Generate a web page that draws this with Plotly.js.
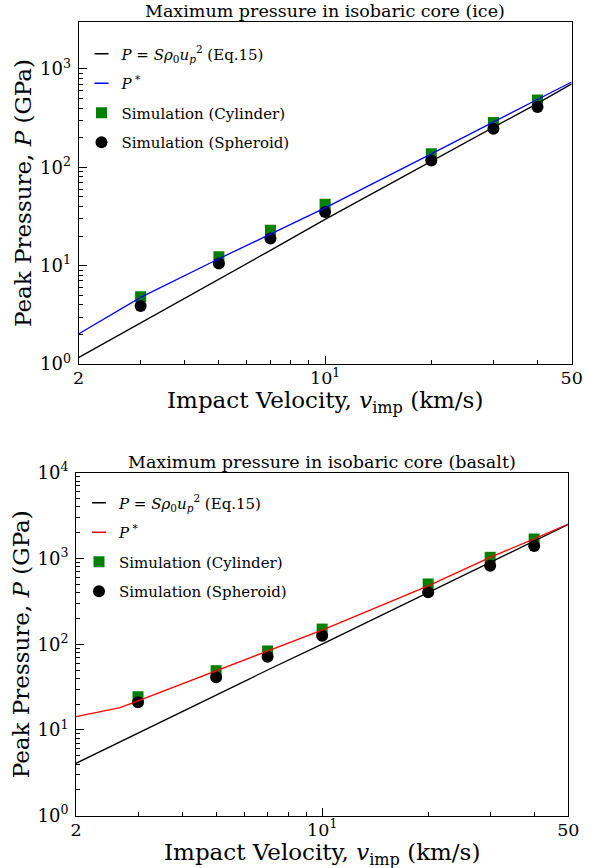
<!DOCTYPE html>
<html><head><meta charset="utf-8">
<script src="https://cdn.plot.ly/plotly-3.0.1.min.js"></script>
<style>html,body{margin:0;padding:0;background:#fff}#chart{width:606px;height:868px}</style>
</head><body><div id="chart"></div>
<script>
// ---- data ----
const velocityLine = [2, 3, 5, 7, 10, 20, 30, 40, 50];
const iceEq15 = [1.16, 2.6, 7.3, 14.3, 29.5, 114, 252, 447, 705];
const icePstar = [2.02, 4.75, 11.75, 20.9, 38.6, 137, 288, 487, 736];
const velocitySim = [3, 5, 7, 10, 20, 30, 40];
const iceCylinder = [4.82, 12.3, 22.9, 42, 137, 285, 484];
const iceSpheroid = [3.88, 10.5, 18.9, 35.2, 117, 246, 411];
const basaltEq15 = [4.08, 9.2, 25.5, 50, 100, 400, 892, 1620, 2490];
const velocityBasaltPstar = [2, 2.67, 3, 5, 7, 10, 20, 30, 40, 50];
const basaltPstar = [14.3, 18.2, 21.8, 48.9, 83, 146, 480, 1031, 1690, 2523];
const basaltCylinder = [24.4, 49.1, 83.4, 150, 504, 1031, 1687];
const basaltSpheroid = [21.0, 41.1, 71.6, 125.6, 403, 824, 1397];

const xTickVals = [2, 10, 50];
const xTickText = ['2', '10<sup>1</sup>', '50'];
const xMinorVals = [3, 4, 5, 6, 7, 8, 9, 20, 30, 40];
const titles = ['Maximum pressure in isobaric core (ice)', 'Maximum pressure in isobaric core (basalt)'];
const xTitle = 'Impact Velocity, <i>v</i><sub>imp</sub> (km/s)';
const yTitle = 'Peak Pressure, <i>P</i> (GPa)';
const legendNames = ['<i>P</i> = <i>Sρ</i><sub>0</sub><i>u</i><sub><i>p</i></sub><sup>2</sup> (Eq.15)', '<i>P</i><sup> *</sup>', 'Simulation (Cylinder)', 'Simulation (Spheroid)'];

const FONT = 'DejaVu Serif, serif';
const W = 606, H = 868;

function decadeTicks(maxExp) {
  const vals = [], text = [], minor = [];
  for (let e = 0; e <= maxExp; e++) {
    vals.push(Math.pow(10, e)); text.push('10<sup>' + e + '</sup>');
    if (e < maxExp) for (let d = 2; d <= 9; d++) minor.push(d * Math.pow(10, e));
  }
  return {vals, text, minor};
}

function traces(xa, ya, legendId, eq, pstarX, pstar, pstarColor, cyl, sph) {
  return [
    {x: [null], y: [null], xaxis: xa, yaxis: ya, mode: 'markers', name: legendNames[0], legend: legendId, legendgroup: legendId + 'a',
     marker: {symbol: 'line-ew-open', size: 10, color: 'black', line: {width: 1.5, color: 'black'}}},
    {x: [null], y: [null], xaxis: xa, yaxis: ya, mode: 'markers', name: legendNames[1], legend: legendId, legendgroup: legendId + 'b',
     marker: {symbol: 'line-ew-open', size: 10, color: pstarColor, line: {width: 1.5, color: pstarColor}}},
    {x: velocitySim, y: cyl, xaxis: xa, yaxis: ya, mode: 'markers', name: legendNames[2], legend: legendId, legendgroup: legendId + 'c',
     marker: {symbol: 'square', size: 11, color: '#008000'}},
    {x: velocitySim, y: sph, xaxis: xa, yaxis: ya, mode: 'markers', name: legendNames[3], legend: legendId, legendgroup: legendId + 'd',
     marker: {symbol: 'circle', size: 12, color: 'black'}},
    {x: velocityLine, y: eq, xaxis: xa, yaxis: ya, mode: 'lines', showlegend: false, line: {color: 'black', width: 1.3}},
    {x: pstarX, y: pstar, xaxis: xa, yaxis: ya, mode: 'lines', showlegend: false, line: {color: pstarColor, width: 1.3}}
  ];
}

const data = [].concat(
  traces('x', 'y', 'legend', iceEq15, velocityLine, icePstar, '#0000ff', iceCylinder, iceSpheroid),
  traces('x2', 'y2', 'legend2', basaltEq15, velocityBasaltPstar, basaltPstar, '#ff0000', basaltCylinder, basaltSpheroid)
);

function xAxis(domain, anchor) {
  return {type: 'log', range: [Math.log10(2), Math.log10(50)], domain: domain, anchor: anchor,
    tickmode: 'array', tickvals: xTickVals, ticktext: xTickText, ticks: 'inside', ticklen: 8, tickcolor: 'black',
    minor: {tickmode: 'array', tickvals: xMinorVals, ticks: 'inside', ticklen: 4, tickcolor: 'black', showgrid: false},
    showgrid: false, zeroline: false, showline: true, linecolor: 'black', linewidth: 1, mirror: true,
    ticklabelstandoff: -2,
    tickfont: {family: FONT, size: 17.5, color: 'black'}, automargin: false};
}
function yAxis(domain, anchor, maxLog, maxExp) {
  const t = decadeTicks(maxExp);
  return {type: 'log', range: [0, maxLog], domain: domain, anchor: anchor,
    tickmode: 'array', tickvals: t.vals, ticktext: t.text, ticks: 'inside', ticklen: 8, tickcolor: 'black',
    minor: {tickmode: 'array', tickvals: t.minor, ticks: 'inside', ticklen: 4, tickcolor: 'black', showgrid: false},
    showgrid: false, zeroline: false, showline: true, linecolor: 'black', linewidth: 1, mirror: true,
    ticklabelstandoff: 3,
    tickfont: {family: FONT, size: 18, color: 'black'}, automargin: false,
    title: {text: yTitle, font: {family: FONT, size: 23, color: 'black'}, standoff: 1}};
}

function legendCfg(leftPx, topPx) {
  return {x: leftPx / W, y: 1 - topPx / H, xanchor: 'left', yanchor: 'top', xref: 'paper', yref: 'paper',
    bgcolor: 'rgba(0,0,0,0)', borderwidth: 0, tracegroupgap: 7, font: {family: FONT, size: 15, color: 'black'}};
}

function ann(text, xPx, yPx, size) {
  return {text: text, xref: 'paper', yref: 'paper', x: xPx / W, y: 1 - yPx / H, xanchor: 'center', yanchor: 'middle',
    showarrow: false, font: {family: FONT, size: size, color: 'black'}};
}

const layout = {
  width: W, height: H, margin: {l: 0, r: 0, t: 0, b: 0},
  paper_bgcolor: 'white', plot_bgcolor: 'white', showlegend: true,
  font: {family: FONT, color: 'black'},
  xaxis: xAxis([78.5 / W, 571.7 / W], 'y'),
  yaxis: yAxis([1 - 364 / H, 1 - 22 / H], 'x', Math.log10(3000), 3),
  xaxis2: xAxis([76 / W, 568.3 / W], 'y2'),
  yaxis2: yAxis([1 - 815.7 / H, 1 - 472.7 / H], 'x2', 4, 4),
  legend: legendCfg(81.5, 37.5),
  legend2: legendCfg(79, 486.5),
  annotations: [
    ann(titles[0], 325, 11, 17.5),
    ann(titles[1], 322, 461.7, 17.5),
    ann(xTitle, 325, 402, 23),
    ann(xTitle, 322, 853.5, 23)
  ]
};

Plotly.newPlot('chart', data, layout, {displayModeBar: false, staticPlot: true});
</script></body></html>
